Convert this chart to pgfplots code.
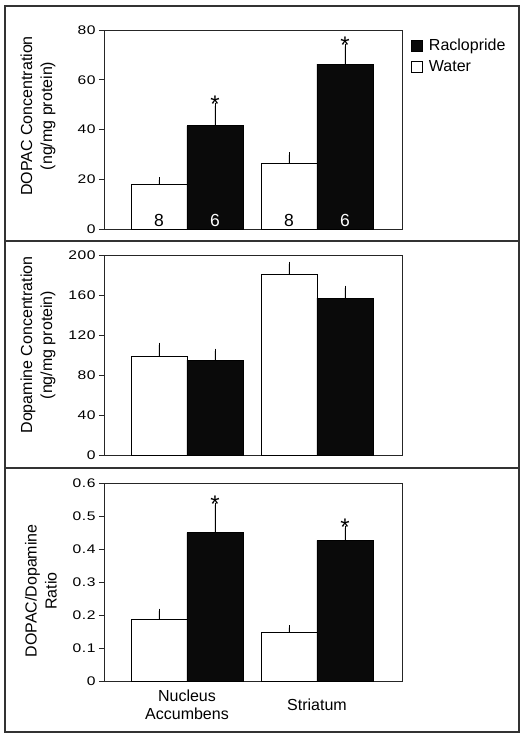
\documentclass[border=0pt]{standalone}
\usepackage{pgfplots}
\pgfplotsset{compat=1.18}
\usepackage{pgfplotstable}
\usepackage{fontspec}
\setmainfont{Liberation Sans}
\newfontfamily\tickfont[FakeStretch=1.25, LetterSpace=4]{Liberation Sans}

\pgfplotstableread{
x water werr racl rerr
0 17.8 2.0 41.5 8.0
1 26.2 3.6 66.3 7.1
}\dopac
\pgfplotstableread{
x water werr racl rerr
0 99 11 95 9
1 181 10 157 10
}\dopamine
\pgfplotstableread{
x water werr racl rerr
0 0.187 0.025 0.450 0.083
1 0.146 0.016 0.426 0.037
}\ratio

\tikzset{
  star/.style={anchor=base, yshift=-7pt, font=\fontsize{24}{26}\selectfont},
  nnum/.style={anchor=base, yshift=2.5pt, font=\fontsize{17.5}{20}\selectfont},
}
\pgfplotsset{
  panel/.style={
    scale only axis, width=298pt,
    xmin=-0.6385, xmax=1.654, ymin=0,
    ybar=0pt, bar width=56pt,
    axis line style={line width=0.8pt, black!85},
    ytick pos=left, tick align=outside, major tick length=5pt,
    ytick style={line width=0.8pt, black!85},
    xtick=\empty,
    /pgf/number format/assume math mode=true,
    yticklabel style={font=\tickfont\fontsize{12.5}{14}\selectfont, black},
    ylabel style={align=center, font=\fontsize{16}{20}\selectfont, anchor=center},
    clip=false,
  },
  waterbar/.style={fill=white, draw=black, line width=0.8pt,
    legend image code/.code={\draw[fill=white,draw=black,line width=0.8pt] (0pt,-5.5pt) rectangle (11pt,5.5pt);},
    error bars/y dir=plus, error bars/y explicit,
    error bars/error bar style={line width=0.8pt, black},
    error bars/error mark options={black, mark size=2.5pt, line width=0.8pt}},
  raclbar/.style={fill=black!96, draw=black, line width=0.8pt,
    legend image code/.code={\draw[fill=black!96,draw=black,line width=0.8pt] (0pt,-5.5pt) rectangle (11pt,5.5pt);},
    error bars/y dir=plus, error bars/y explicit,
    error bars/error bar style={line width=0.8pt, black},
    error bars/error mark options={black, mark size=2.5pt, line width=0.8pt}},
}

\begin{document}
\begin{tikzpicture}
\useasboundingbox (0,0) rectangle (525pt,-740pt);
\fill[white] (0,0) rectangle (525pt,-740pt);

% Panel 1: DOPAC
\begin{axis}[panel, at={(104pt,-229pt)}, anchor=south west, height=199pt,
  ymax=80, ytick={0,20,40,60,80},
  ylabel={DOPAC Concentration\\(ng/mg protein)},
  ylabel style={at={(axis description cs:-0.2215,0.568)}},
  legend style={at={(axis description cs:1.02,0.975)}, anchor=north west,
    draw=none, fill=none, font=\fontsize{16}{19}\selectfont, row sep=4pt,
    /tikz/every odd column/.append style={column sep=4pt}},
  legend cell align=left,
  reverse legend,
]
\addplot[waterbar] table[x=x, y=water, y error=werr] {\dopac};
\addplot[raclbar] table[x=x, y=racl, y error=rerr] {\dopac};
\legend{Water, Raclopride}
\node[nnum] at (axis cs:-0.2154,0) {8};
\node[nnum, text=white] at (axis cs:0.2154,0) {6};
\node[nnum] at (axis cs:0.7846,0) {8};
\node[nnum, text=white] at (axis cs:1.2154,0) {6};
\node[star] at (axis cs:0.2154,49.5) {*};
\node[star] at (axis cs:1.2154,73.4) {*};
\end{axis}

% Panel 2: Dopamine
\begin{axis}[panel, at={(104pt,-455pt)}, anchor=south west, height=200pt,
  ymax=200, ytick={0,40,80,120,160,200},
  ylabel={Dopamine Concentration\\(ng/mg protein)},
  ylabel style={at={(axis description cs:-0.2215,0.55)}},
]
\addplot[waterbar] table[x=x, y=water, y error=werr] {\dopamine};
\addplot[raclbar] table[x=x, y=racl, y error=rerr] {\dopamine};
\end{axis}

% Panel 3: Ratio
\begin{axis}[panel, at={(104pt,-681pt)}, anchor=south west, height=198pt,
  ymax=0.6, ytick={0,0.1,0.2,0.3,0.4,0.5,0.6},
  yticklabel style={/pgf/number format/fixed, /pgf/number format/precision=1},
  ylabel={DOPAC/Dopamine\\Ratio},
  ylabel style={at={(axis description cs:-0.2114,0.455)}},
  xtick={0,1}, xticklabels={Nucleus\\Accumbens, Striatum},
  xtick style={draw=none},
  xticklabel style={align=center, anchor=center, yshift=-19pt,
    font=\fontsize{16}{18.5}\selectfont},
]
\addplot[waterbar] table[x=x, y=water, y error=werr] {\ratio};
\addplot[raclbar] table[x=x, y=racl, y error=rerr] {\ratio};
\node[star] at (axis cs:0.2154,0.533) {*};
\node[star] at (axis cs:1.2154,0.463) {*};
\end{axis}

% frames
\draw[line width=1.5pt, black!80] (5pt,-6pt) rectangle (519pt,-732pt);
\draw[line width=1.5pt, black!80] (5pt,-241pt) -- (519pt,-241pt);
\draw[line width=1.5pt, black!80] (5pt,-468pt) -- (519pt,-468pt);
\end{tikzpicture}
\end{document}
